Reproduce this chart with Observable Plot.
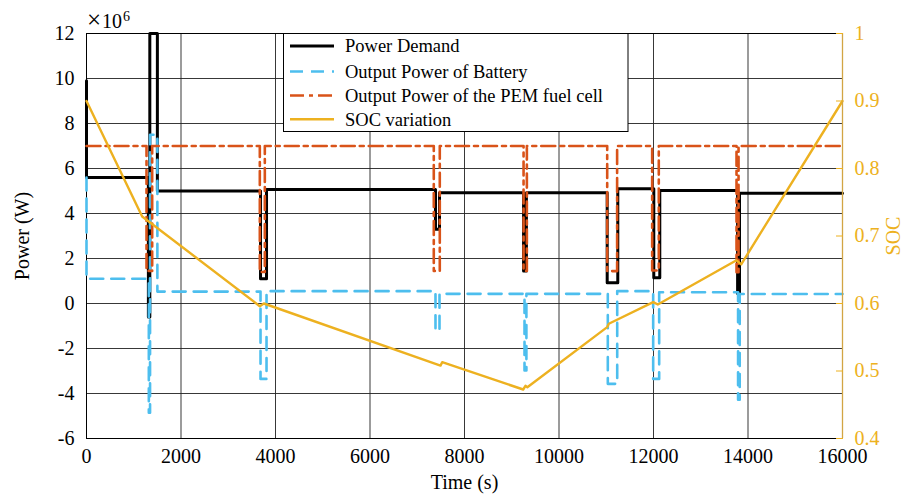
<!DOCTYPE html>
<html><head><meta charset="utf-8">
<script src="https://cdn.jsdelivr.net/npm/d3@7"></script>
<script src="https://cdn.jsdelivr.net/npm/@observablehq/plot@0.6"></script>
<style>body{margin:0;background:#fff}#chart{width:907px;height:494px}</style>
</head><body><div id="chart"></div>
<script>
// ---- tick arrays ----
const xTicks = [0, 2000, 4000, 6000, 8000, 10000, 12000, 14000, 16000];
const powerTicks = [-6, -4, -2, 0, 2, 4, 6, 8, 10, 12];
const socTicks = [0.4, 0.5, 0.6, 0.7, 0.8, 0.9, 1];
const socTickLabels = ["0.4", "0.5", "0.6", "0.7", "0.8", "0.9", "1"];
const seriesNames = ["Power Demand", "Output Power of Battery", "Output Power of the PEM fuel cell", "SOC variation"];

// ---- series (power in units of 10^6 W, time in s) ----
const demandTime = [0, 0, 1310, 1310, 1340, 1340, 1500, 1500, 3683, 3683, 3810, 3810, 7386, 7386, 7471, 7471, 9250, 9250, 9310, 9310, 11020, 11020, 11244, 11244, 12006, 12006, 12133, 12133, 13780, 13780, 13820, 13820, 16000];
const demandPower = [9.9, 5.6, 5.6, -0.6, -0.6, 12, 12, 5.0, 5.0, 1.1, 1.1, 5.07, 5.07, 3.3, 3.3, 4.92, 4.92, 1.45, 1.45, 4.92, 4.92, 0.92, 0.92, 5.1, 5.1, 1.14, 1.14, 5.02, 5.02, 0.45, 0.45, 4.9, 4.9];

const batteryTime = [0, 0, 1319, 1319, 1345, 1345, 1500, 1500, 3683, 3683, 3810, 3810, 7386, 7386, 7471, 7471, 9270, 9270, 9310, 9310, 11033, 11033, 11232, 11232, 11993, 11993, 12120, 12120, 13790, 13790, 13825, 13825, 16000];
const batteryPower = [5.6, 1.1, 1.1, -4.85, -4.85, 7.5, 7.5, 0.53, 0.53, -3.35, -3.35, 0.55, 0.55, -1.2, -1.2, 0.43, 0.43, -2.98, -2.98, 0.43, 0.43, -3.57, -3.57, 0.55, 0.55, -3.35, -3.35, 0.5, 0.5, -4.28, -4.28, 0.42, 0.42];

const fuelCellTime = [0, 1270, 1270, 1390, 1390, 3668, 3668, 3774, 3774, 7350, 7350, 7477, 7477, 9250, 9250, 9320, 9320, 11020, 11020, 11230, 11230, 11972, 11972, 12112, 12112, 13757, 13757, 13800, 13800, 16000];
const fuelCellPower = [7, 7, 1.45, 1.45, 7, 7, 1.4, 1.4, 7, 7, 1.45, 1.45, 7, 7, 1.45, 1.45, 7, 7, 1.44, 1.44, 7, 7, 1.47, 1.47, 7, 7, 1.39, 1.39, 7, 7];

const socTime = [0, 1178, 3668, 3753, 7492, 7528, 9242, 9290, 9330, 11020, 11054, 11994, 12091, 13757, 13856, 16000];
const socValue = [0.9, 0.729, 0.596, 0.600, 0.508, 0.513, 0.4726, 0.478, 0.476, 0.565, 0.570, 0.602, 0.5985, 0.664, 0.658, 0.9];

// ---- helpers ----
const powerDomain = [-6, 12];
const socDomain = [0.4, 1];
const socToPower = s => powerDomain[0] + (s - socDomain[0]) / (socDomain[1] - socDomain[0]) * (powerDomain[1] - powerDomain[0]);
const toRows = (ts, vs) => ts.map((t, i) => ({t, v: vs[i]}));

const demand = toRows(demandTime, demandPower);
const battery = toRows(batteryTime, batteryPower);
const fuelCell = toRows(fuelCellTime, fuelCellPower);
const soc = toRows(socTime, socValue);
const socPositions = socTicks.map(socToPower);

const colors = {demand: "#000000", battery: "#4DBEEE", fuel: "#D95319", soc: "#EDB120"};
const dashBattery = "13,8";
const dashFuel = "14,5,4,5";
const font = "'Liberation Serif', 'Times New Roman', serif";

const chart = Plot.plot({
  width: 907,
  height: 494,
  marginLeft: 86,
  marginRight: 65,
  marginTop: 33,
  marginBottom: 56,
  style: {fontFamily: font, fontSize: "20px", background: "#fff", color: "#000"},
  x: {domain: [0, 16000]},
  y: {domain: powerDomain},
  marks: [
    Plot.gridX(xTicks, {stroke: "#222", strokeOpacity: 0.9, strokeWidth: 1}),
    Plot.gridY(powerTicks, {stroke: "#222", strokeOpacity: 0.9, strokeWidth: 1}),
    Plot.frame({stroke: "#000", strokeWidth: 1}),
    Plot.axisX(xTicks, {tickSize: 0, tickPadding: 10, tickFormat: d => String(d), label: "Time (s)", labelAnchor: "center", labelOffset: 50, labelArrow: "none"}),
    Plot.axisY(powerTicks, {tickSize: 0, tickPadding: 12, tickFormat: d => String(d), label: "Power (W)", labelAnchor: "center", labelOffset: 72, labelArrow: "none"}),
    Plot.line(demand, {x: "t", y: "v", stroke: colors.demand, strokeWidth: 3}),
    Plot.line(battery, {x: "t", y: "v", stroke: colors.battery, strokeWidth: 2.6, strokeDasharray: dashBattery}),
    Plot.line(fuelCell, {x: "t", y: "v", stroke: colors.fuel, strokeWidth: 2.6, strokeDasharray: dashFuel}),
    Plot.line(soc, {x: "t", y: d => socToPower(d.v), stroke: colors.soc, strokeWidth: 2.4}),
    Plot.ruleX([16000], {stroke: "#D2A544", strokeWidth: 1.3}),
    Plot.axisY(socPositions, {anchor: "right", tickSize: -7, tickPadding: 19, color: "#EDB120",
      tickFormat: d => socTickLabels[socPositions.indexOf(d)], label: "SOC", labelAnchor: "center", labelOffset: 57, labelArrow: "none"})
  ]
});
document.getElementById("chart").append(chart);

// ---- extra annotations: exponent and legend ----
const svg = d3.select(chart);
const ex = svg.append("text").attr("x", 87).attr("y", 28).attr("text-anchor", "start")
  .style("font-family", font).style("font-size", "20px").attr("fill", "#000");
ex.append("tspan").style("font-size", "25px").text("×");
ex.append("tspan").attr("dx", 1).style("font-size", "20px").text("10");
ex.append("tspan").attr("dx", 1).attr("dy", -7).style("font-size", "14px").text("6");

const lg = svg.append("g").style("font-family", font).style("font-size", "18.5px").attr("text-anchor", "start");
lg.append("rect").attr("x", 283.5).attr("y", 33.5).attr("width", 344.5).attr("height", 98).attr("fill", "#fff").attr("stroke", "#000").attr("stroke-width", 1);
const rowY = [46, 71.5, 95.5, 119.3];
const legendStyles = [
  {stroke: colors.demand, dash: null, w: 3},
  {stroke: colors.battery, dash: dashBattery, w: 2.6},
  {stroke: colors.fuel, dash: dashFuel, w: 2.6},
  {stroke: colors.soc, dash: null, w: 2.4}
];
seriesNames.forEach((name, i) => {
  const s = legendStyles[i];
  const ln = lg.append("line").attr("x1", 290).attr("x2", 334).attr("y1", rowY[i]).attr("y2", rowY[i])
    .attr("stroke", s.stroke).attr("stroke-width", s.w);
  if (s.dash) ln.attr("stroke-dasharray", s.dash);
  lg.append("text").attr("x", 345).attr("y", rowY[i]).attr("dy", "0.35em").attr("text-anchor", "start").attr("fill", "#000").text(name);
});
</script>
</body></html>
